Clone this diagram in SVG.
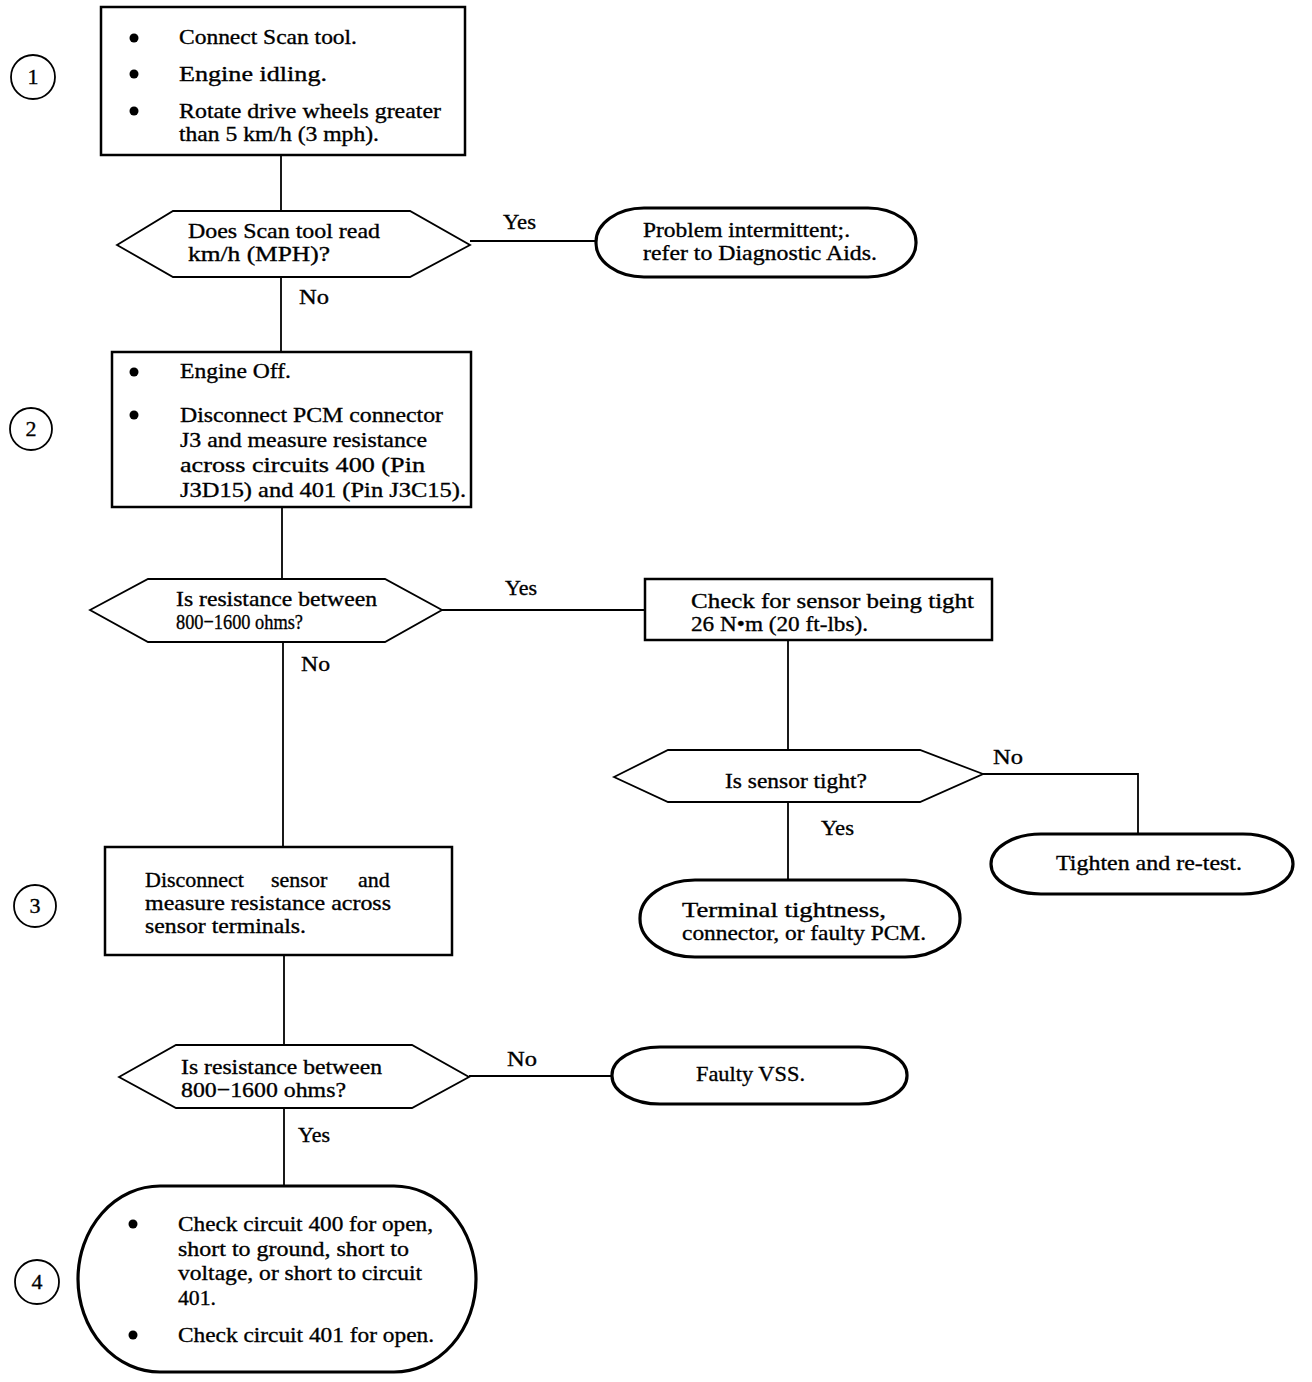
<svg xmlns="http://www.w3.org/2000/svg" width="1312" height="1382" viewBox="0 0 1312 1382">
<style>
text{font-family:"Liberation Serif","Times New Roman",serif;font-size:22px;fill:#000;stroke:#000;stroke-width:0.35}
.box{fill:#fff;stroke:#000;stroke-width:2.5}
.ov{fill:#fff;stroke:#000;stroke-width:3.2}
.hex{fill:#fff;stroke:#000;stroke-width:1.8}
.num{fill:#fff;stroke:#000;stroke-width:1.8}
.c{stroke:#000;stroke-width:1.8;fill:none}
.b{fill:#000}
.m{text-anchor:middle}
</style>
<rect width="1312" height="1382" fill="#fff"/>
<g id="connectors">
<line class="c" x1="281" y1="155" x2="281" y2="211"/>
<line class="c" x1="470" y1="241" x2="596" y2="241"/>
<line class="c" x1="281" y1="277" x2="281" y2="352"/>
<line class="c" x1="282" y1="507" x2="282" y2="579"/>
<line class="c" x1="442" y1="610" x2="645" y2="610"/>
<line class="c" x1="283" y1="642" x2="283" y2="847"/>
<line class="c" x1="788" y1="640" x2="788" y2="750"/>
<polyline class="c" points="983,774 1138,774 1138,833"/>
<line class="c" x1="788" y1="802" x2="788" y2="880"/>
<line class="c" x1="284" y1="955" x2="284" y2="1045"/>
<line class="c" x1="469" y1="1076" x2="612" y2="1076"/>
<line class="c" x1="284" y1="1108" x2="284" y2="1187"/>
<text x="503" y="229" textLength="33" lengthAdjust="spacingAndGlyphs">Yes</text>
<text x="299" y="304" textLength="30" lengthAdjust="spacingAndGlyphs">No</text>
<text x="505" y="595" textLength="32" lengthAdjust="spacingAndGlyphs">Yes</text>
<text x="301" y="671" textLength="29" lengthAdjust="spacingAndGlyphs">No</text>
<text x="993" y="764" textLength="30" lengthAdjust="spacingAndGlyphs">No</text>
<text x="821" y="835" textLength="33" lengthAdjust="spacingAndGlyphs">Yes</text>
<text x="507" y="1066" textLength="30" lengthAdjust="spacingAndGlyphs">No</text>
<text x="298" y="1142" textLength="32" lengthAdjust="spacingAndGlyphs">Yes</text>
</g>
<g id="step1"><circle class="num" cx="33" cy="77" r="22"/><text class="m" x="33" y="84">1</text></g>
<g id="step2"><circle class="num" cx="31" cy="429" r="21"/><text class="m" x="31" y="436">2</text></g>
<g id="step3"><circle class="num" cx="35" cy="906" r="21"/><text class="m" x="35" y="913">3</text></g>
<g id="step4"><circle class="num" cx="37" cy="1282" r="22"/><text class="m" x="37" y="1289">4</text></g>
<g id="box1">
<rect class="box" x="101" y="7" width="364" height="148"/>
<circle class="b" cx="134" cy="38" r="4.5"/><circle class="b" cx="134" cy="74" r="4.5"/><circle class="b" cx="134" cy="111" r="4.5"/>
<text x="179" y="44" textLength="178" lengthAdjust="spacingAndGlyphs">Connect Scan tool.</text>
<text x="179" y="81" textLength="148" lengthAdjust="spacingAndGlyphs">Engine idling.</text>
<text x="179" y="118" textLength="262" lengthAdjust="spacingAndGlyphs">Rotate drive wheels greater</text>
<text x="179" y="141" textLength="200" lengthAdjust="spacingAndGlyphs">than 5 km/h (3 mph).</text>
</g>
<g id="dec1">
<polygon class="hex" points="117,245 173,211 410,211 470,245 410,277 173,277"/>
<text x="188" y="238" textLength="192" lengthAdjust="spacingAndGlyphs">Does Scan tool read</text>
<text x="188" y="261" textLength="142" lengthAdjust="spacingAndGlyphs">km/h (MPH)?</text>
</g>
<g id="end1">
<rect class="ov" x="596" y="208" width="320" height="69" rx="48" ry="34"/>
<text x="643" y="237" textLength="207" lengthAdjust="spacingAndGlyphs">Problem intermittent;.</text>
<text x="643" y="260" textLength="234" lengthAdjust="spacingAndGlyphs">refer to Diagnostic Aids.</text>
</g>
<g id="box2">
<rect class="box" x="112" y="352" width="359" height="155"/>
<circle class="b" cx="134" cy="372" r="4.5"/><circle class="b" cx="134" cy="415" r="4.5"/>
<text x="180" y="378" textLength="111" lengthAdjust="spacingAndGlyphs">Engine Off.</text>
<text x="180" y="422" textLength="263" lengthAdjust="spacingAndGlyphs">Disconnect PCM connector</text>
<text x="180" y="447" textLength="247" lengthAdjust="spacingAndGlyphs">J3 and measure resistance</text>
<text x="180" y="472" textLength="245" lengthAdjust="spacingAndGlyphs">across circuits 400 (Pin</text>
<text x="180" y="497" textLength="286" lengthAdjust="spacingAndGlyphs">J3D15) and 401 (Pin J3C15).</text>
</g>
<g id="dec2">
<polygon class="hex" points="90,610 148,579 385,579 442,610 385,642 148,642"/>
<text x="176" y="606" textLength="201" lengthAdjust="spacingAndGlyphs">Is resistance between</text>
<text x="176" y="629" textLength="127" lengthAdjust="spacingAndGlyphs">800−1600 ohms?</text>
</g>
<g id="box-check">
<rect class="box" x="645" y="579" width="347" height="61"/>
<text x="691" y="608" textLength="283" lengthAdjust="spacingAndGlyphs">Check for sensor being tight</text>
<text x="691" y="631" textLength="177" lengthAdjust="spacingAndGlyphs">26 N•m (20 ft-lbs).</text>
</g>
<g id="dec3">
<polygon class="hex" points="614,777 668,750 920,750 983,774 920,802 668,802"/>
<text class="m" x="796" y="788" textLength="142" lengthAdjust="spacingAndGlyphs">Is sensor tight?</text>
</g>
<g id="end-tighten">
<rect class="ov" x="991" y="834" width="302" height="60" rx="50" ry="30"/>
<text x="1056" y="870" textLength="186" lengthAdjust="spacingAndGlyphs">Tighten and re-test.</text>
</g>
<g id="end-terminal">
<rect class="ov" x="640" y="880" width="320" height="77" rx="55" ry="38"/>
<text x="682" y="917" textLength="204" lengthAdjust="spacingAndGlyphs">Terminal tightness,</text>
<text x="682" y="940" textLength="244" lengthAdjust="spacingAndGlyphs">connector, or faulty PCM.</text>
</g>
<g id="box3">
<rect class="box" x="105" y="847" width="347" height="108"/>
<text y="887"><tspan x="145">Disconnect</tspan><tspan x="271">sensor</tspan><tspan x="358">and</tspan></text>
<text x="145" y="910" textLength="246" lengthAdjust="spacingAndGlyphs">measure resistance across</text>
<text x="145" y="933" textLength="161" lengthAdjust="spacingAndGlyphs">sensor terminals.</text>
</g>
<g id="dec4">
<polygon class="hex" points="119,1077 176,1045 412,1045 469,1077 412,1108 176,1108"/>
<text x="181" y="1074" textLength="201" lengthAdjust="spacingAndGlyphs">Is resistance between</text>
<text x="181" y="1097" textLength="165" lengthAdjust="spacingAndGlyphs">800−1600 ohms?</text>
</g>
<g id="end-vss">
<rect class="ov" x="612" y="1047" width="295" height="57" rx="48" ry="28"/>
<text x="696" y="1081" textLength="109" lengthAdjust="spacingAndGlyphs">Faulty VSS.</text>
</g>
<g id="end4">
<rect class="ov" x="78" y="1186" width="398" height="186" rx="82" ry="93"/>
<circle class="b" cx="133" cy="1224" r="4.5"/><circle class="b" cx="133" cy="1335" r="4.5"/>
<text x="178" y="1231" textLength="255" lengthAdjust="spacingAndGlyphs">Check circuit 400 for open,</text>
<text x="178" y="1256" textLength="231" lengthAdjust="spacingAndGlyphs">short to ground, short to</text>
<text x="178" y="1280" textLength="244" lengthAdjust="spacingAndGlyphs">voltage, or short to circuit</text>
<text x="178" y="1305" textLength="38" lengthAdjust="spacingAndGlyphs">401.</text>
<text x="178" y="1342" textLength="256" lengthAdjust="spacingAndGlyphs">Check circuit 401 for open.</text>
</g>
</svg>
